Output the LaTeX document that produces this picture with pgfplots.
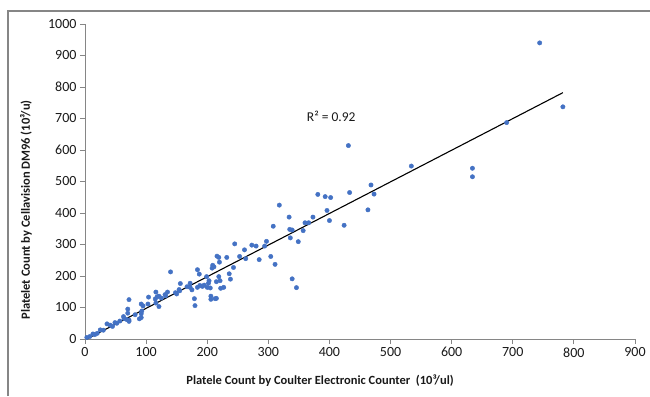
\documentclass[border=0pt]{standalone}
\usepackage{fontspec}
\setmainfont{Carlito}
\usepackage{pgfplots}
\pgfplotsset{compat=1.18}
\definecolor{ptblue}{RGB}{68,114,196}
\definecolor{axgray}{RGB}{134,134,134}
\begin{document}
\begin{tikzpicture}[x=1pt,y=1pt]
\path[use as bounding box] (-85,-57) rectangle (565,339);
\draw[axgray, line width=1.3pt] (-77,-57) -- (-77,328) -- (565,328);
\begin{axis}[
  at={(0,0)}, anchor=south west,
  width=550pt, height=315pt, scale only axis,
  xmin=0, xmax=900, ymin=0, ymax=1000,
  xtick={0,100,...,900}, ytick={0,100,...,1000},
  axis x line*=bottom, axis y line*=left,
  axis line style={axgray, line width=0.8pt, -},
  tick style={axgray, line width=0.8pt},
  tick align=outside, major tick length=5pt,
  tick label style={font=\fontsize{14}{16}\selectfont, text=black!90},
  /pgf/number format/assume math mode=true,
  /pgf/number format/1000 sep={},
  clip=false,
]
\addplot[only marks, color=ptblue, mark=*, mark size=2.2pt, mark options={draw=ptblue, fill=ptblue, line width=0.4pt, solid}] table {
x y
3 5
8 8
13 16
16 14
20 18
25 29
30 28
36 48
41 44
45 40
49 52
52 50
57 57
63 71
64 65
68 62
70 82
70 95
72 60
72 56
72 125
82 77
89 64
92 68
92 80
93 89
95 105
92 111
103 111
104 133
115 127
116 114
121 103
121 136
118 134
125 130
116 149
131 141
135 149
132 137
140 213
148 147
150 143
155 153
156 176
154 157
167 166
172 164
175 156
172 177
179 128
180 106
184 164
184 220
187 206
188 170
192 167
195 171
199 198
202 177
200 164
203 185
205 162
206 126
206 136
208 225
209 234
211 229
213 128
215 129
215 182
216 263
219 259
220 244
219 198
221 185
222 161
227 164
232 259
236 207
238 190
243 227
245 302
253 262
261 283
263 255
273 298
280 295
285 252
294 295
297 310
304 262
308 358
311 237
318 425
334 387
335 348
339 346
336 321
339 191
346 163
349 309
357 344
360 369
366 369
373 387
381 459
393 452
396 408
400 376
402 449
424 361
431 614
433 465
463 410
468 489
473 460
534 549
634 542
634 515
690 687
744 940
782 737
};
\addplot[black, line width=1.1pt] coordinates {(3,0) (782,782)};
\node[font=\fontsize{13.5}{15}\selectfont, text=black!90] at (axis cs:403,708) {R² = 0.92};
\end{axis}
\node[font=\fontsize{12.5}{14}\selectfont\bfseries, text=black!90] at (235,-42) {Platele Count by Coulter Electronic Counter\ \ (10³/ul)};
\node[font=\fontsize{12.5}{14}\selectfont\bfseries, text=black!90, rotate=90] at (-59,129) {Platelet Count by Cellavision DM96 (10³/u)};
\end{tikzpicture}
\end{document}
